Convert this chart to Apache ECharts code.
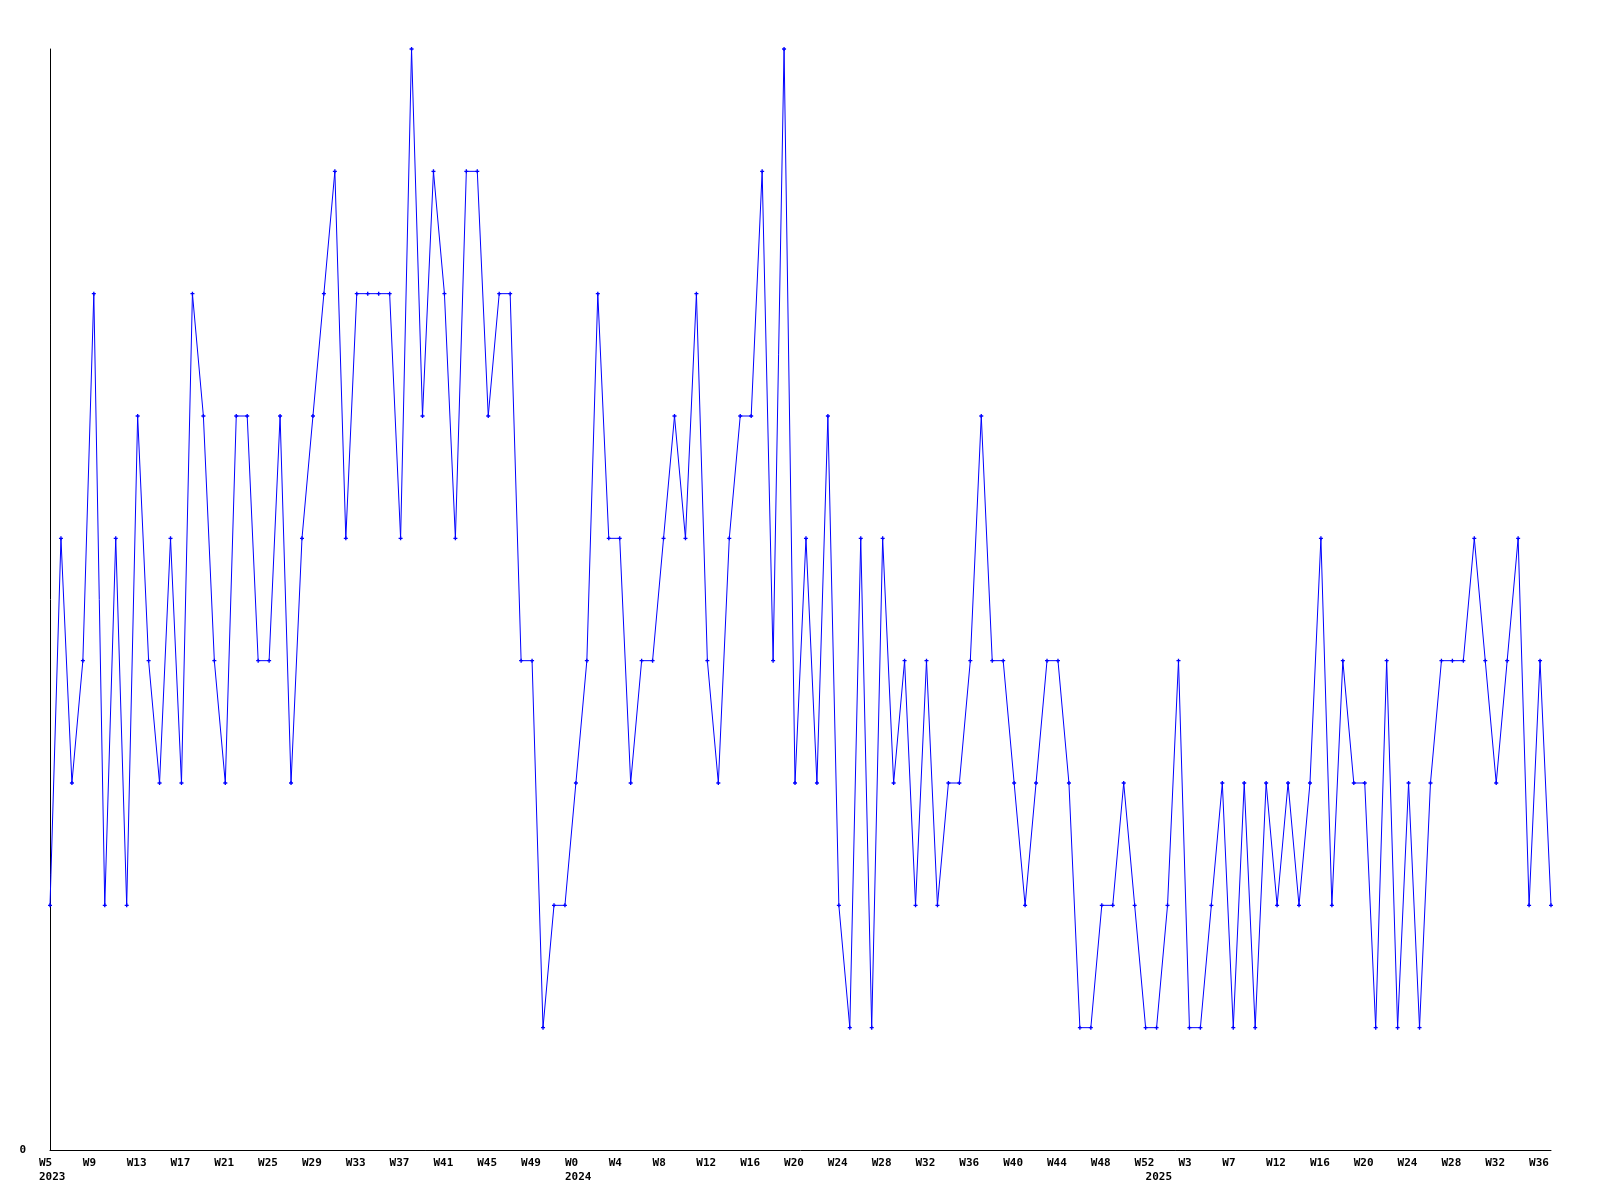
<!DOCTYPE html>
<html>
<head>
<meta charset="utf-8">
<script src="https://cdn.jsdelivr.net/npm/echarts@6/dist/echarts.min.js"></script>
<style>
html,body{margin:0;padding:0;background:#fff;}
#chart{width:1600px;height:1200px;}
</style>
</head>
<body>
<div id="chart"></div>
<script>
// Weekly values, W5 2023 .. W37 2025
const values = [
  2,5,3,4,7,2,5,2,6,4,
  3,5,3,7,6,4,3,6,6,4,
  4,6,3,5,6,7,8,5,7,7,
  7,7,5,9,6,8,7,5,8,8,
  6,7,7,4,4,1,2,2,3,4,
  7,5,5,3,4,4,5,6,5,7,
  4,3,5,6,6,8,4,9,3,5,
  3,6,2,1,5,1,5,3,4,2,
  4,2,3,3,4,6,4,4,3,2,
  3,4,4,3,1,1,2,2,3,2,
  1,1,2,4,1,1,2,3,1,3,
  1,3,2,3,2,3,5,2,4,3,
  3,1,4,1,3,1,3,4,4,4,
  5,4,3,4,5,2,4,2
];

// One category per weekly point (week starting dates)
const startDate = new Date(Date.UTC(2023, 0, 29));
const weeks = values.map((_, i) => {
  const d = new Date(startDate.getTime() + i * 7 * 86400000);
  return d.toISOString().slice(0, 10);
});

// Tick labels shown under the axis (every 4th point)
const tickIndex = [0,4,8,12,16,20,24,28,32,36,40,44,
  48,52,56,60,64,68,72,76,80,84,88,92,96,100,
  104,108,112,116,120,124,128,132,136];
const tickLabels = ['W5','W9','W13','W17','W21','W25','W29','W33','W37','W41','W45','W49',
  'W0','W4','W8','W12','W16','W20','W24','W28','W32','W36','W40','W44','W48','W52',
  'W3','W7','W12','W16','W20','W24','W28','W32','W36'];

// Year labels
const yearIndex = [0, 48, 101];
const yearLabels = ['2023', '2024', '2025'];

const tickMap = {};
tickIndex.forEach((ix, k) => { tickMap[ix] = tickLabels[k]; });
const yearMap = {};
yearIndex.forEach((ix, k) => { yearMap[ix] = yearLabels[k]; });

const FONT = 'DejaVu Sans Mono';
const labelBase = {
  color: '#000',
  fontFamily: FONT,
  fontWeight: 'bold',
  fontSize: 11
};

const chart = echarts.init(document.getElementById('chart'), null, {renderer: 'canvas'});
chart.setOption({
  animation: false,
  backgroundColor: '#fff',
  grid: {left: 50, right: 49, top: 49, bottom: 50, containLabel: false},
  xAxis: [
    {
      type: 'category',
      data: weeks,
      boundaryGap: false,
      position: 'bottom',
      axisLine: {show: true, lineStyle: {color: '#000', width: 1}},
      axisTick: {show: false},
      splitLine: {show: false},
      axisLabel: Object.assign({}, labelBase, {
        margin: 8,
        interval: (idx) => tickMap[idx] !== undefined,
        formatter: (val, idx) => '{a|' + (tickMap[idx] || '') + '}',
        rich: {a: Object.assign({}, labelBase, {width: 22, align: 'left'})}
      })
    },
    {
      type: 'category',
      data: weeks,
      boundaryGap: false,
      position: 'bottom',
      axisLine: {show: false},
      axisTick: {show: false},
      splitLine: {show: false},
      axisLabel: Object.assign({}, labelBase, {
        margin: 22,
        interval: (idx) => yearMap[idx] !== undefined,
        formatter: (val, idx) => '{a|' + (yearMap[idx] || '') + '}',
        rich: {a: Object.assign({}, labelBase, {width: 22, align: 'left'})}
      })
    }
  ],
  yAxis: {
    type: 'value',
    min: 0,
    max: 9,
    interval: 9,
    axisLine: {show: true, lineStyle: {color: '#000', width: 1}},
    axisTick: {show: false},
    splitLine: {show: false},
    axisLabel: Object.assign({}, labelBase, {
      margin: 24,
      formatter: (v) => (v === 0 ? '0' : '')
    })
  },
  series: [{
    type: 'line',
    xAxisIndex: 0,
    data: values,
    symbol: 'path://M0,1H3V2H0Z M1,0H2V3H1Z',
    symbolSize: 4,
    showAllSymbol: true,
    itemStyle: {color: '#0000ff'},
    lineStyle: {color: '#0000ff', width: 1}
  }]
});
</script>
</body>
</html>
